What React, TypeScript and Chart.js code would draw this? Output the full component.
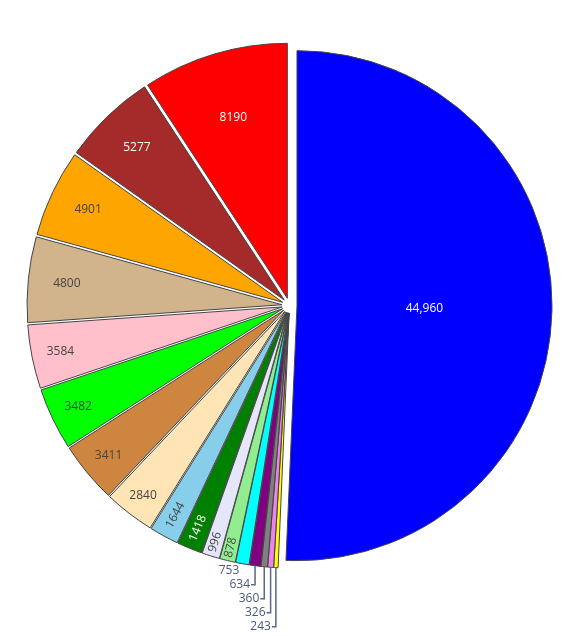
import React, { useEffect, useRef } from 'react';
import { Chart, registerables } from 'chart.js';

Chart.register(...registerables);

// Slices in drawing order: clockwise from 12 o'clock
const categories = [
  'Blue', 'Gold', 'Violet', 'Gray', 'Purple', 'Cyan', 'Light green', 'Lavender', 'Green',
  'Sky blue', 'Moccasin', 'Peru', 'Lime', 'Pink', 'Tan', 'Orange', 'Brown', 'Red',
];
const values = [44960, 243, 326, 360, 634, 753, 878, 996, 1418, 1644, 2840, 3411, 3482, 3584, 4800, 4901, 5277, 8190];
const colors = [
  '#0000ff', '#ffff00', '#ee82ee', '#808080', '#800080', '#00ffff', '#90ee90', '#e6e6fa', '#008000',
  '#87ceeb', '#ffe4b5', '#cd853f', '#00ff00', '#ffc0cb', '#d2b48c', '#ffa500', '#a52a2a', '#ff0000',
];
const darkSlices = ['#0000ff', '#008000', '#a52a2a', '#ff0000', '#800080'];

const PULL = 7.5;
const RADIUS = 255;
const FONT = '12px "Open Sans", Verdana, Arial, sans-serif';
const INSIDE_DARK_TEXT = '#444444';
const OUTSIDE_TEXT = '#4a5878';
const LEADER = '#5a6785';

const fmt = (v: number) => (v >= 10000 ? v.toLocaleString('en-US') : String(v));

const pullPlugin = {
  id: 'pullSlices',
  beforeDatasetDraw(chart: any, args: any) {
    const ctx = chart.ctx;
    args.meta.data.forEach((el: any) => {
      const { startAngle, endAngle } = el.getProps(['startAngle', 'endAngle'], true);
      const mid = (startAngle + endAngle) / 2;
      ctx.save();
      ctx.translate(Math.cos(mid) * PULL, Math.sin(mid) * PULL);
      el.draw(ctx, chart.chartArea);
      ctx.restore();
    });
    return false;
  },
};

const labelPlugin = {
  id: 'sliceLabels',
  afterDraw(chart: any) {
    const ctx = chart.ctx;
    const meta = chart.getDatasetMeta(0);
    ctx.save();
    ctx.font = FONT;
    const outside: any[] = [];
    meta.data.forEach((el: any, i: number) => {
      const { x, y, startAngle, endAngle, outerRadius } = el.getProps(
        ['x', 'y', 'startAngle', 'endAngle', 'outerRadius'],
        true
      );
      const mid = (startAngle + endAngle) / 2;
      const deg = ((endAngle - startAngle) * 180) / Math.PI;
      const cx = x + Math.cos(mid) * PULL;
      const cy = y + Math.sin(mid) * PULL;
      const text = fmt(values[i]);
      const w = ctx.measureText(text).width;
      const color = darkSlices.includes(colors[i]) ? '#ffffff' : INSIDE_DARK_TEXT;
      if (deg > 90) {
        const d = outerRadius * 0.5;
        ctx.fillStyle = color;
        ctx.textAlign = 'center';
        ctx.textBaseline = 'middle';
        ctx.fillText(text, cx + Math.cos(mid) * d, cy + Math.sin(mid) * d);
      } else if (deg >= 8) {
        const d = outerRadius * (1 - 0.0078 * deg);
        ctx.fillStyle = color;
        ctx.textAlign = 'center';
        ctx.textBaseline = 'middle';
        ctx.fillText(text, cx + Math.cos(mid) * d, cy + Math.sin(mid) * d);
      } else if (deg >= 3.3) {
        const d = outerRadius - w / 2 - 3 - Math.max(0, deg - 3.5) * 2.2;
        let rot = mid;
        while (rot > Math.PI / 2) rot -= Math.PI;
        while (rot < -Math.PI / 2) rot += Math.PI;
        ctx.save();
        ctx.translate(cx + Math.cos(mid) * d, cy + Math.sin(mid) * d);
        ctx.rotate(rot);
        ctx.fillStyle = color;
        ctx.textAlign = 'center';
        ctx.textBaseline = 'middle';
        ctx.fillText(text, 0, 0);
        ctx.restore();
      } else {
        outside.push({
          i,
          text,
          w,
          ax: cx + Math.cos(mid) * outerRadius,
          ay: cy + Math.sin(mid) * outerRadius,
        });
      }
    });
    // stack outside labels downward, starting from the one furthest from the big slice
    outside.sort((a, b) => b.i - a.i);
    let prevY = -Infinity;
    outside.forEach((o) => {
      const naturalY = o.ay + 7;
      const ly = Math.max(naturalY, prevY + 14);
      ctx.fillStyle = OUTSIDE_TEXT;
      ctx.textBaseline = 'middle';
      ctx.textAlign = 'right';
      if (ly > naturalY + 0.5) {
        ctx.strokeStyle = LEADER;
        ctx.lineWidth = 1.5;
        ctx.beginPath();
        ctx.moveTo(o.ax, o.ay);
        ctx.lineTo(o.ax, ly);
        ctx.lineTo(o.ax - 4, ly);
        ctx.stroke();
        ctx.fillText(o.text, o.ax - 5, ly);
      } else {
        ctx.fillText(o.text, o.ax - 3, ly);
      }
      prevY = ly;
    });
    ctx.restore();
  },
};

export default function App() {
  const canvasRef = useRef<HTMLCanvasElement | null>(null);

  useEffect(() => {
    if (!canvasRef.current) return;
    const chart = new Chart(canvasRef.current, {
      type: 'pie',
      data: {
        labels: categories,
        datasets: [
          {
            data: values,
            backgroundColor: colors,
            borderColor: '#444444',
            borderWidth: 1,
            hoverOffset: 0,
            radius: RADIUS,
          } as any,
        ],
      },
      options: {
        animation: false,
        responsive: false,
        devicePixelRatio: 1,
        layout: { padding: { left: 7, right: 0, top: 0, bottom: 25 } },
        events: [],
        plugins: {
          legend: { display: false },
          tooltip: { enabled: false },
        },
      },
      plugins: [pullPlugin, labelPlugin],
    });
    return () => chart.destroy();
  }, []);

  return (
    <div style={{ position: 'absolute', left: 0, top: 0, width: 572, height: 636, background: '#fff' }}>
      <canvas ref={canvasRef} width={572} height={636} style={{ display: 'block' }} />
    </div>
  );
}
